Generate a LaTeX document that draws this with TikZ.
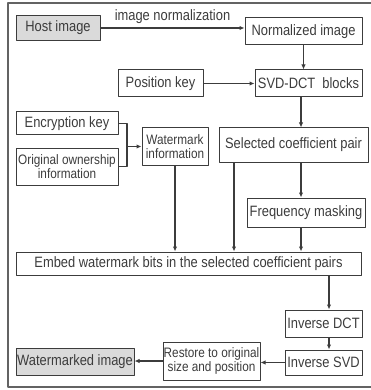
\documentclass[tikz,border=0pt]{standalone}
\usepackage{fontspec}
\setmainfont{Liberation Sans}[FakeStretch=0.86]
\usetikzlibrary{arrows.meta}
\definecolor{ink}{HTML}{3C3C3C}
\definecolor{hostgray}{HTML}{DADADA}
\begin{document}
\begin{tikzpicture}[x=1pt,y=-1pt,>={Latex[length=5pt,width=4.5pt]},line join=round,
	font=\fontsize{15}{17}\selectfont,
	box/.style={draw=ink,line width=1pt,text=ink,inner sep=0pt,align=center},
	gbox/.style={box,fill=hostgray},
	small/.style={font=\fontsize{13.7}{13.5}\selectfont},
	link/.style={draw=ink,line width=1.1pt}]
	\useasboundingbox (0,0) rectangle (371,390);
	\draw[ink!80,line width=1.2pt] (371,3) -- (8,3) -- (8,387) -- (371,387);
	% top row
	\node[gbox,minimum width=84pt,minimum height=25pt] (host) at (58,28) {Host image};
	\node[box,minimum width=117pt,minimum height=27pt] (norm) at (303.5,31.5) {Normalized image};
	\node[box,minimum width=85pt,minimum height=27pt] (pos) at (160.5,83.5) {Position key};
	\node[box,minimum width=107pt,minimum height=27pt] (svd) at (308.5,83.5) {SVD-DCT\ \ blocks};
	% keys and watermark
	\node[box,minimum width=102pt,minimum height=23pt] (enc) at (67,123.5) {Encryption key};
	\node[box,small,minimum width=102pt,minimum height=37pt] (own) at (67,166.5) {Original ownership\\information};
	\node[box,small,minimum width=66pt,minimum height=37pt] (wm) at (175,146.5) {Watermark\\information};
	\node[box,minimum width=149pt,minimum height=34pt] (sel) at (293.5,145) {Selected coefficient pair};
	\node[box,minimum width=118pt,minimum height=29pt] (freq) at (306,212.5) {Frequency masking};
	\node[box,minimum width=345pt,minimum height=23pt] (embed) at (188.5,263.5) {Embed watermark bits in the selected coefficient pairs};
	% inverse steps
	\node[box,minimum width=77pt,minimum height=27pt] (idct) at (323.5,323.5) {Inverse DCT};
	\node[box,minimum width=77pt,minimum height=25pt] (isvd) at (323.5,362.5) {Inverse SVD};
	\node[box,small,minimum width=97pt,minimum height=38pt] (rest) at (211.5,361) {Restore to original\\size and position};
	\node[gbox,minimum width=118pt,minimum height=27pt] (wmk) at (75,361.5) {Watermarked image};
	\coordinate (brk) at (127,146.5);
	\coordinate (c1) at (234,0);
	\coordinate (c2) at (301,0);
	\coordinate (c3) at (329,0);
	% connectors
	\draw[link,->] (host.east) -- node[above=1pt,text=ink] {image normalization} (host -| norm.west);
	\draw[link,->] (norm.south) -- (norm.south |- svd.north);
	\draw[link,->] (pos) -- (svd);
	\draw[link] (enc.east) -| (brk) |- (own.east);
	\draw[link,->] (brk) -- (wm.west);
	\draw[link,->] (c2 |- svd.south) -- (c2 |- sel.north);
	\draw[link,->] (c2 |- sel.south) -- (c2 |- freq.north);
	\draw[link,->] (c2 |- freq.south) -- (c2 |- embed.north);
	\draw[link,->] (c1 |- sel.south) -- (c1 |- embed.north);
	\draw[link,->] (wm.south) -- (wm.south |- embed.north);
	\draw[link,->] (c3 |- embed.south) -- (c3 |- idct.north);
	\draw[link,->] (c3 |- idct.south) -- (c3 |- isvd.north);
	\draw[link,->] (isvd.west) -- (isvd.west -| rest.east);
	\draw[link,->] (rest.west) -- (rest.west -| wmk.east);
\end{tikzpicture}
\end{document}
